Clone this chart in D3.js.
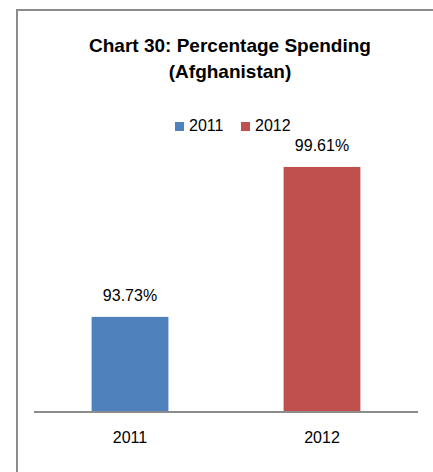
<!DOCTYPE html>
<meta charset="utf-8">
<style>
  body { margin: 0; background: #fff; overflow: hidden; }
  svg { font-family: "Liberation Sans", Arial, sans-serif; display: block; }
  .frame { fill: none; stroke: #8c8c8c; stroke-width: 2; }
  .title { font-weight: bold; font-size: 19px; fill: #000; }
  .legend text, .label { font-size: 16px; fill: #000; }
  .domain-line { stroke: #8c8c8c; stroke-width: 2; shape-rendering: crispEdges; }
</style>
<body>
<script src="https://cdn.jsdelivr.net/npm/d3@7"></script>
<script>
  // data
  var years = ["2011", "2012"];
  var values = [93.73, 99.61];
  var colors = ["#4f81bd", "#c0504d"];
  var titleLines = ["Chart 30: Percentage Spending", "(Afghanistan)"];

  var width = 433, height = 472;

  var svg = d3.select("body").append("svg")
    .attr("width", width)
    .attr("height", height);

  // outer chart border: only the top and left edges are in view
  svg.append("path")
    .attr("class", "frame")
    .attr("d", "M17," + height + "V10H" + width);

  // title
  svg.selectAll(".title")
    .data(titleLines)
    .enter().append("text")
    .attr("class", "title")
    .attr("x", 230)
    .attr("y", function (d, i) { return 52 + i * 26; })
    .attr("text-anchor", "middle")
    .text(function (d) { return d; });

  // legend
  var legend = svg.append("g").attr("class", "legend");
  var item = legend.selectAll("g")
    .data(years)
    .enter().append("g")
    .attr("transform", function (d, i) { return "translate(" + (175 + i * 66) + ",0)"; });
  item.append("rect")
    .attr("y", 122)
    .attr("width", 9)
    .attr("height", 9)
    .attr("fill", function (d, i) { return colors[i]; });
  item.append("text")
    .attr("x", 14)
    .attr("y", 131)
    .text(function (d) { return d; });

  // scales
  var x = d3.scaleBand()
    .domain(years)
    .range([34, 418])
    .paddingInner(0.6)
    .paddingOuter(0.3);

  var y = d3.scaleLinear()
    .domain([90, 100])
    .range([412, 157]);

  // bars
  svg.selectAll(".bar")
    .data(values)
    .enter().append("rect")
    .attr("class", "bar")
    .attr("x", function (d, i) { return x(years[i]); })
    .attr("y", function (d) { return y(d); })
    .attr("width", x.bandwidth())
    .attr("height", function (d) { return y(90) - y(d); })
    .attr("fill", function (d, i) { return colors[i]; });

  // value labels
  svg.selectAll(".label")
    .data(values)
    .enter().append("text")
    .attr("class", "label")
    .attr("x", function (d, i) { return x(years[i]) + x.bandwidth() / 2; })
    .attr("y", function (d) { return y(d) - 16; })
    .attr("text-anchor", "middle")
    .text(function (d) { return d.toFixed(2) + "%"; });

  // category axis
  var xAxis = d3.axisBottom(x).tickSize(0).tickPadding(0);
  var gx = svg.append("g")
    .attr("transform", "translate(0," + y(90) + ")")
    .call(xAxis);
  gx.select(".domain").attr("class", "domain-line").attr("d", "M34,0H418");
  gx.selectAll(".tick text")
    .attr("dy", null)
    .attr("y", 31)
    .attr("fill", "#000")
    .style("font-family", "Liberation Sans, Arial, sans-serif")
    .style("font-size", "16px");
</script>
</body>
